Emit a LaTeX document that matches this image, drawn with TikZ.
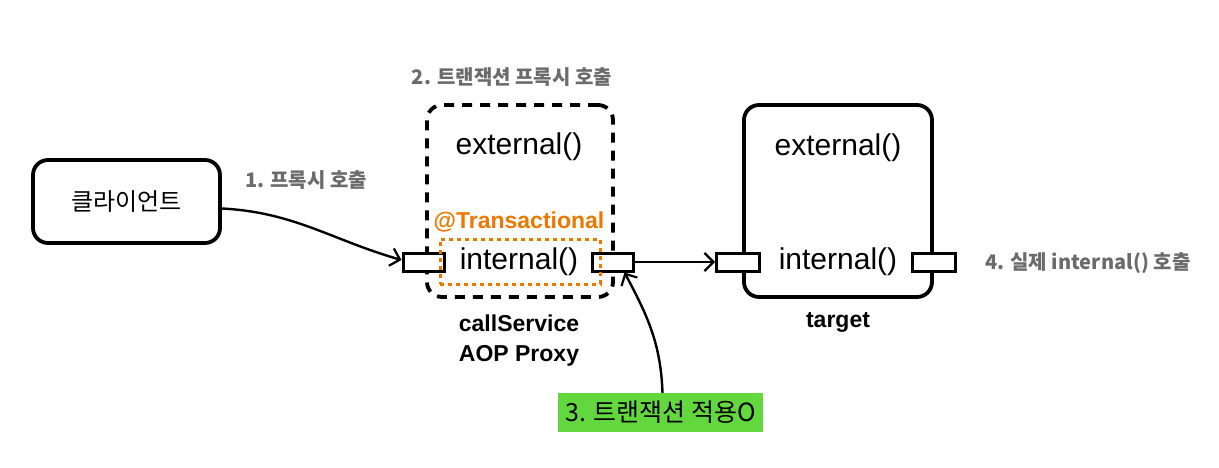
\documentclass[tikz,border=0pt]{standalone}
\usepackage{fontspec}
\setmainfont{Liberation Sans}
\newfontfamily\kr{Noto Sans CJK KR}
\usetikzlibrary{arrows.meta}
\definecolor{lblgray}{HTML}{6B6B6B}
\definecolor{txorange}{HTML}{EE7700}
\definecolor{appgreen}{HTML}{62D83E}
\tikzset{
  obox/.style={draw=black, line width=3.8pt, rounded corners=15pt, inner sep=0pt},
  port/.style={draw=black, line width=3pt, fill=white, minimum width=41pt, minimum height=18pt, inner sep=0pt},
  conn/.style={draw=black, line width=2.4pt, -{Straight Barb[length=9pt,width=18pt,line width=2.2pt]}},
  graylbl/.style={text=lblgray, font=\kr\bfseries\fontsize{20}{24}\selectfont, inner sep=0pt},
  meth/.style={font=\fontsize{30}{36}\selectfont, inner sep=0pt},
  bold/.style={font=\bfseries\fontsize{23}{28}\selectfont, inner sep=0pt, align=center}
}
\begin{document}
\begin{tikzpicture}[x=1pt,y=1pt]
\useasboundingbox (0,0) rectangle (1219,-468);
% client
\node[obox, minimum width=187pt, minimum height=83pt, font=\kr\fontsize{24}{28}\selectfont] (client) at (126.5,-201.5) {클라이언트};
\node[graylbl] (l1) at (306,-180) {1. 프록시 호출};
% proxy
\node[obox, dashed, dash pattern=on 10pt off 8pt, minimum width=186pt, minimum height=192pt] (proxy) at (520,-201) {};
\node[graylbl] (l2) at (512,-77) {2. 트랜잭션 프록시 호출};
\node[meth] (pext) at (519,-147) {external()};
\node[font=\bfseries\fontsize{23}{28}\selectfont, text=txorange, inner sep=0pt] (tx) at (519,-222) {@Transactional};
\node[port] (pl) at (423.5,-262) {};
\node[port] (pr) at (612.5,-262) {};
\node[draw=txorange, line width=3pt, dash pattern=on 4pt off 4pt, minimum width=160pt, minimum height=45pt, inner sep=0pt] (txbox) at (520,-261.5) {};
\node[meth] (pint) at (519,-262) {internal()};
\node[bold] (pname) at (519,-341) {callService\\[2pt]AOP Proxy};
% target
\node[obox, minimum width=188pt, minimum height=192pt] (target) at (838,-201) {};
\node[meth] (text) at (838,-148) {external()};
\node[meth] (tint) at (838,-262) {internal()};
\node[port, minimum width=43pt] (tl) at (738,-262) {};
\node[port, minimum width=43pt] (tr) at (933.5,-262) {};
\node[bold] (tname) at (838,-322) {target};
\node[graylbl, anchor=west] (l4) at (985,-263) {4. 실제 internal() 호출};
% green label
\node[fill=appgreen, minimum width=205pt, minimum height=39pt, inner sep=0pt, font=\kr\fontsize{25}{29}\selectfont] (l3) at (660.5,-412.5) {3. 트랜잭션 적용O};
% connectors
\draw[conn] ([yshift=-7pt]client.east) to[out=-3,in=164] ([yshift=2pt]pl.west);
\draw[conn] (pr.east) -- (tl.west);
\draw[conn] ([xshift=2pt]l3.north) to[out=92,in=-62] ([xshift=12pt]pr.south);
\end{tikzpicture}
\end{document}
